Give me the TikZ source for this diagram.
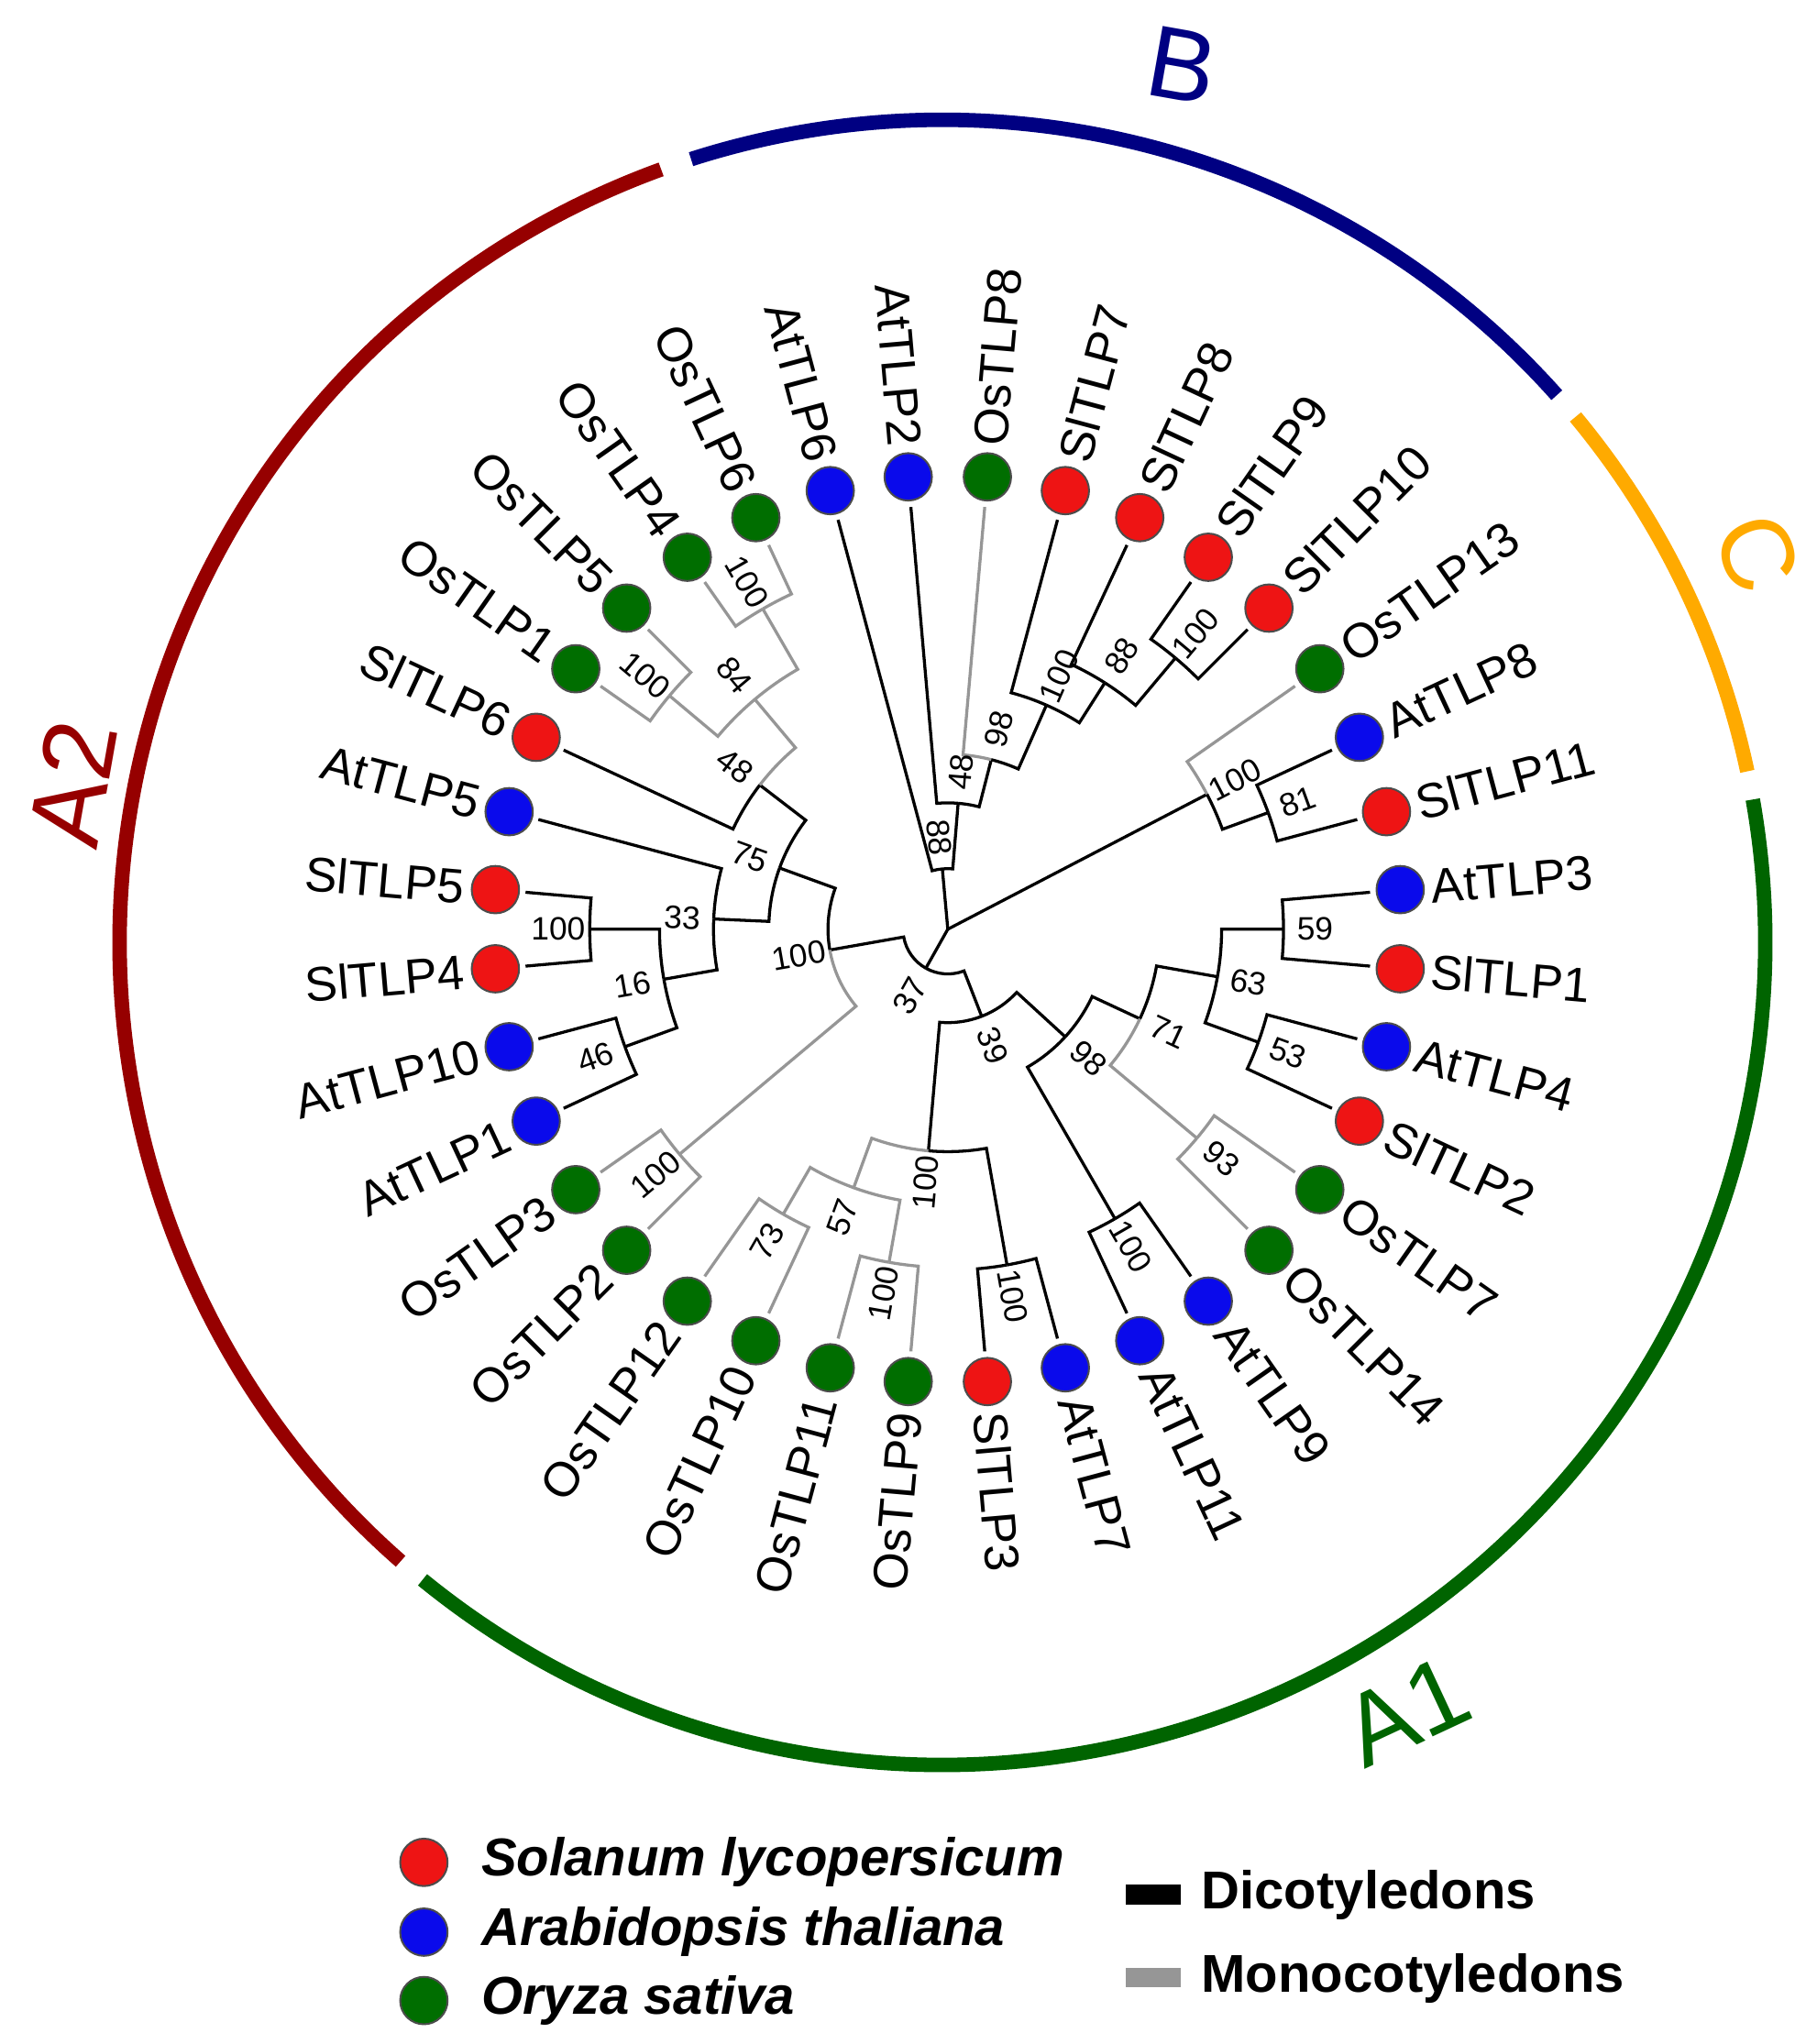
\documentclass[tikz,border=0pt]{standalone}
\usepackage{fontspec}
\setmainfont{Liberation Sans}
\definecolor{cred}{RGB}{238,20,20}
\definecolor{cblue}{RGB}{10,10,235}
\definecolor{cgreen}{RGB}{0,110,0}
\definecolor{ringA}{RGB}{150,0,0}
\definecolor{ringB}{RGB}{0,0,130}
\definecolor{ringC}{RGB}{255,170,0}
\definecolor{ringD}{RGB}{0,100,0}
\definecolor{mono}{RGB}{150,150,150}
\tikzset{
  blk/.style={black,line width=0.65pt},
  gry/.style={mono,line width=0.65pt},
  dot/.style={circle,draw=black!70,line width=0.4pt,minimum size=0.36cm,inner sep=0pt},
  leaflab/.style={font=\fontsize{10.5}{12}\selectfont,inner sep=0pt},
  lab/.style={font=\fontsize{7}{8}\selectfont,inner sep=0.5pt},
  ring/.style={line width=0.11cm},
  clade/.style={font=\fontsize{22}{24}\selectfont},
  legt/.style={font=\fontsize{11.5}{13}\selectfont\bfseries,anchor=west,inner sep=0pt}
}
\newcommand\ch[5]{\draw[#1] (#3:#2) arc[start angle=#3,end angle=#4,radius=#2] -- (#4:#5);}
\newcommand\lab[3]{\pgfmathsetmacro\rot{cos(#1)>=0 ? #1 : #1-180}\node[lab,rotate=\rot] at (#1:#2) {#3};}
\newcommand\leaf[4]{%
  \node[dot,fill=#2] (#4) at (#1:345) {};
  \pgfmathsetmacro\cc{cos(#1)}%
  \ifdim\cc pt<-0.001pt
    \pgfmathsetmacro\rr{#1-180}\node[leaflab,anchor=east,rotate=\rr] at (#1:368) {#3};
  \else
    \node[leaflab,anchor=west,rotate=#1] at (#1:368) {#3};
  \fi}
\begin{document}
\begin{tikzpicture}[x=0.01cm,y=0.01cm]
\useasboundingbox (0,0) rectangle (1380,1553);
% ring
\begin{scope}[shift={(716,837)}]
\draw[ring,ringA] (110:625) arc[start angle=110,end angle=228.8,radius=625];
\draw[ring,ringB] (41.7:625) arc[start angle=41.7,end angle=107.8,radius=625];
\draw[ring,ringC] (12:625) arc[start angle=12,end angle=39.7,radius=625];
\draw[ring,ringD] (-129.2:625) arc[start angle=-129.2,end angle=10,radius=625];
\end{scope}
\node[clade,ringB,rotate=-10] (cB) at (898,1503) {B};
\node[clade,ringC,rotate=-68] (cC) at (1335,1133) {C};
\node[clade,ringA,rotate=80] (cA2) at (55,958) {A2};
\node[clade,ringD,rotate=25] (cA1) at (1068,253) {A1};
\begin{scope}[shift={(720,847)}]
% root
\coordinate (root) at (0,0);
\draw[blk] (root) -- (95.16:46);
\draw[blk] (root) -- (27.5:222);
\draw[blk] (root) -- (240.625:34);
% clade B
\ch{blk}{46}{95.16}{105}{322}
\ch{blk}{46}{95.16}{85.31}{96}
\ch{blk}{96}{85.31}{95}{322}
\ch{blk}{96}{85.31}{75.625}{133}
\ch{gry}{133}{75.625}{85}{322}
\ch{blk}{133}{75.625}{66.25}{186}
\ch{blk}{186}{66.25}{75}{322}
\ch{blk}{186}{66.25}{57.5}{222}
\ch{blk}{222}{57.5}{65}{322}
\ch{blk}{222}{57.5}{50}{269}
\ch{blk}{269}{50}{55}{322}
\ch{blk}{269}{50}{45}{322}
\lab{95.16}{70}{88}\lab{85.31}{120}{48}\lab{75.625}{157}{98}
\lab{66.25}{210}{100}\lab{57.5}{246}{88}\lab{50}{293}{100}
% clade C
\ch{gry}{222}{27.5}{35}{322}
\ch{blk}{222}{27.5}{20}{259}
\ch{blk}{259}{20}{25}{322}
\ch{blk}{259}{20}{15}{322}
\lab{27.5}{246}{100}\lab{20}{283}{81}
% node 37
\ch{blk}{34}{240.625}{190}{91}
\ch{blk}{34}{240.625}{291.25}{71}
\lab{240.625}{58}{37}
% A2
\ch{blk}{91}{190}{160}{136}
\ch{gry}{91}{190}{220}{266}
\lab{190}{115}{100}
\ch{gry}{266}{220}{215}{322}\ch{gry}{266}{220}{225}{322}\lab{220}{290}{100}
\ch{blk}{136}{160}{142.5}{180}\ch{blk}{136}{160}{177.5}{178}\lab{160}{160}{75}
\ch{blk}{180}{142.5}{155}{322}\ch{gry}{180}{142.5}{130}{228}\lab{142.5}{204}{48}
\ch{gry}{228}{130}{140}{276}\ch{gry}{228}{130}{120}{281}\lab{130}{252}{84}
\ch{gry}{276}{140}{145}{322}\ch{gry}{276}{140}{135}{322}\lab{140}{300}{100}
\ch{gry}{281}{120}{125}{322}\ch{gry}{281}{120}{115}{322}\lab{120}{305}{100}
\ch{blk}{178}{177.5}{165}{322}\ch{blk}{178}{177.5}{190}{219}\lab{177.5}{202}{33}
\ch{blk}{219}{190}{180}{272}\ch{blk}{219}{190}{200}{261}\lab{190}{243}{16}
\ch{blk}{272}{180}{175}{322}\ch{blk}{272}{180}{185}{322}\lab{180}{296}{100}
\ch{blk}{261}{200}{195}{322}\ch{blk}{261}{200}{205}{322}\lab{200}{285}{46}
% A1
\ch{blk}{71}{-68.75}{-95}{169}\ch{blk}{71}{-68.75}{-42.5}{121}\lab{-68.75}{95}{39}
\ch{gry}{169}{-95}{-110}{209}\ch{blk}{169}{-95}{-80}{259}\lab{-95}{193}{100}
\ch{blk}{259}{-80}{-85}{322}\ch{blk}{259}{-80}{-75}{322}\lab{-80}{283}{100}
\ch{gry}{209}{-110}{-120}{250}\ch{gry}{209}{-110}{-100}{257}\lab{-110}{233}{57}
\ch{gry}{250}{-120}{-125}{322}\ch{gry}{250}{-120}{-115}{322}\lab{-120}{274}{73}
\ch{gry}{257}{-100}{-105}{322}\ch{gry}{257}{-100}{-95}{322}\lab{-100}{281}{100}
\ch{blk}{121}{-42.5}{-25}{161}\ch{blk}{121}{-42.5}{-60}{254}\lab{-42.5}{145}{98}
\ch{blk}{161}{-25}{-10}{208}\ch{gry}{161}{-25}{-40}{247}\lab{-25}{185}{71}
\ch{blk}{208}{-10}{0}{255}\ch{blk}{208}{-10}{-20}{251}\lab{-10}{232}{63}
\ch{blk}{255}{0}{5}{322}\ch{blk}{255}{0}{-5}{322}\lab{0}{279}{59}
\ch{blk}{251}{-20}{-15}{322}\ch{blk}{251}{-20}{-25}{322}\lab{-20}{275}{53}
\ch{gry}{247}{-40}{-35}{322}\ch{gry}{247}{-40}{-45}{322}\lab{-40}{271}{93}
\ch{blk}{254}{-60}{-55}{322}\ch{blk}{254}{-60}{-65}{322}\lab{-60}{278}{100}
% leaves
\leaf{5}{cblue}{AtTLP3}{l1}
\leaf{-5}{cred}{SlTLP1}{l2}
\leaf{-15}{cblue}{AtTLP4}{l3}
\leaf{-25}{cred}{SlTLP2}{l4}
\leaf{-35}{cgreen}{OsTLP7}{l5}
\leaf{-45}{cgreen}{OsTLP14}{l6}
\leaf{-55}{cblue}{AtTLP9}{l7}
\leaf{-65}{cblue}{AtTLP11}{l8}
\leaf{-75}{cblue}{AtTLP7}{l9}
\leaf{-85}{cred}{SlTLP3}{l10}
\leaf{-95}{cgreen}{OsTLP9}{l11}
\leaf{-105}{cgreen}{OsTLP11}{l12}
\leaf{-115}{cgreen}{OsTLP10}{l13}
\leaf{-125}{cgreen}{OsTLP12}{l14}
\leaf{-135}{cgreen}{OsTLP2}{l15}
\leaf{215}{cgreen}{OsTLP3}{l16}
\leaf{205}{cblue}{AtTLP1}{l17}
\leaf{195}{cblue}{AtTLP10}{l18}
\leaf{185}{cred}{SlTLP4}{l19}
\leaf{175}{cred}{SlTLP5}{l20}
\leaf{165}{cblue}{AtTLP5}{l21}
\leaf{155}{cred}{SlTLP6}{l22}
\leaf{145}{cgreen}{OsTLP1}{l23}
\leaf{135}{cgreen}{OsTLP5}{l24}
\leaf{125}{cgreen}{OsTLP4}{l25}
\leaf{115}{cgreen}{OsTLP6}{l26}
\leaf{105}{cblue}{AtTLP6}{l27}
\leaf{95}{cblue}{AtTLP2}{l28}
\leaf{85}{cgreen}{OsTLP8}{l29}
\leaf{75}{cred}{SlTLP7}{l30}
\leaf{65}{cred}{SlTLP8}{l31}
\leaf{55}{cred}{SlTLP9}{l32}
\leaf{45}{cred}{SlTLP10}{l33}
\leaf{35}{cgreen}{OsTLP13}{l34}
\leaf{25}{cblue}{AtTLP8}{l35}
\leaf{15}{cred}{SlTLP11}{l36}
\end{scope}
% legend
\node[dot,fill=cred] (g1) at (322,138) {};
\node[dot,fill=cblue] (g2) at (322,85) {};
\node[dot,fill=cgreen] (g3) at (322,33) {};
\node[legt,font=\fontsize{11.5}{13}\selectfont\bfseries\itshape] (t1) at (365,138) {Solanum lycopersicum};
\node[legt,font=\fontsize{11.5}{13}\selectfont\bfseries\itshape] (t2) at (365,85) {Arabidopsis thaliana};
\node[legt,font=\fontsize{11.5}{13}\selectfont\bfseries\itshape] (t3) at (365,33) {Oryza sativa};
\fill[black] (855,106) rectangle (897,121);
\node[legt] (t4) at (912,113) {Dicotyledons};
\fill[mono] (855,43) rectangle (897,58);
\node[legt] (t5) at (912,50) {Monocotyledons};
\end{tikzpicture}
\end{document}
